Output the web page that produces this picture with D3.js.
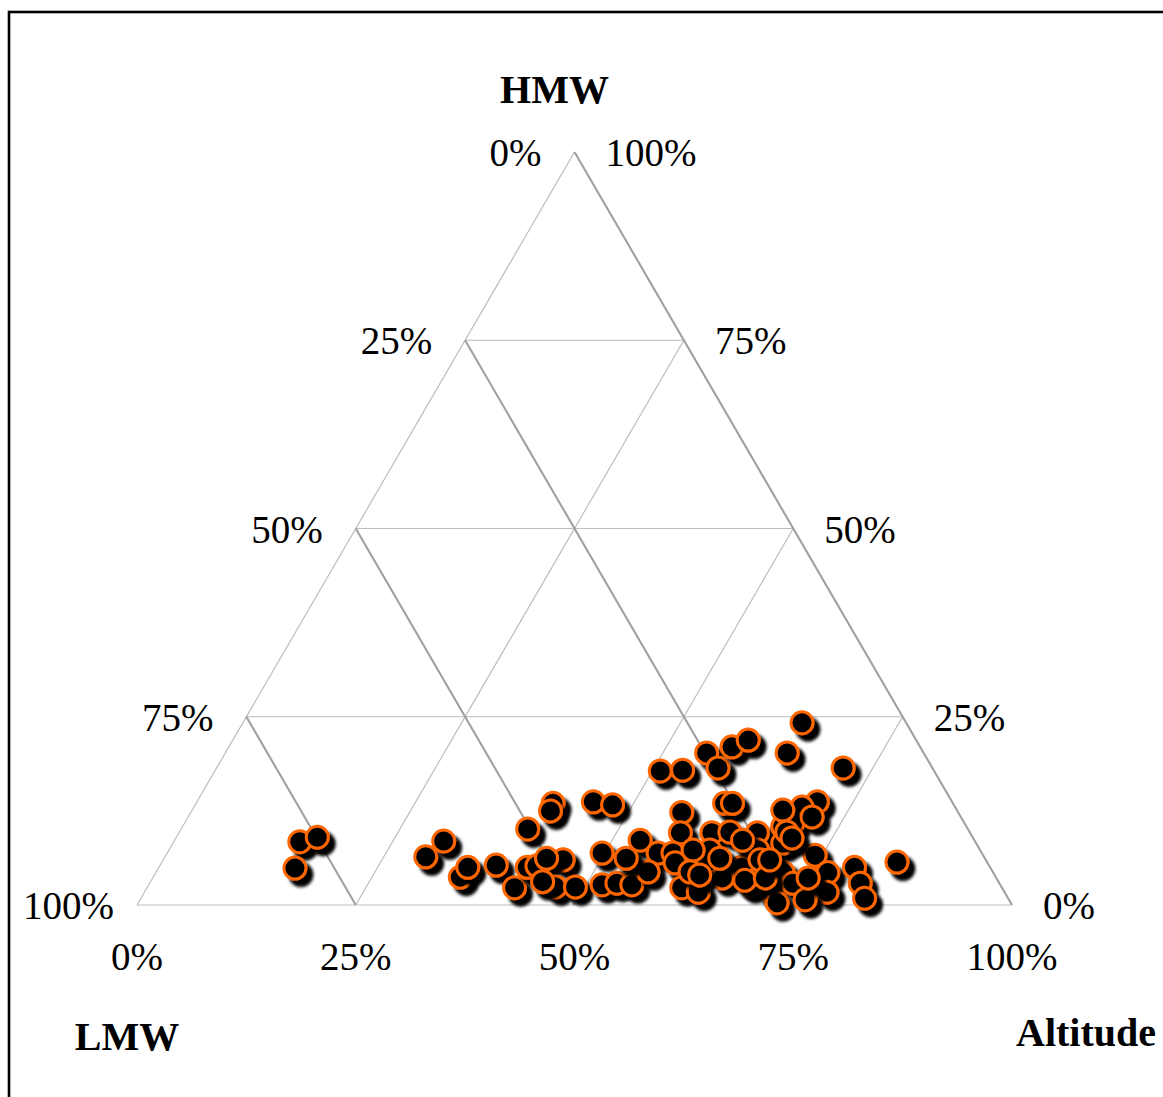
<!DOCTYPE html>
<html>
<head>
<meta charset="utf-8">
<script src="https://cdn.jsdelivr.net/npm/d3@7"></script>
<style>
  body { margin: 0; background: #fff; }
  svg { display: block; }
  text { font-family: "Liberation Serif", "Times New Roman", serif; fill: #000; }
</style>
</head>
<body>
<svg id="chart" width="1163" height="1097"></svg>
<script>
// Composition of each sample (percent): HMW, LMW and Altitude
const hmw = [8.4, 9.0, 4.9, 6.4, 8.5, 3.7, 5.0, 5.3, 2.3, 10.1, 5.0, 5.2, 13.5, 12.5, 13.7, 13.3, 6.0, 6.2, 2.4, 2.4,
  6.9, 2.7, 2.9, 2.7, 8.6, 6.9, 4.4, 17.8, 17.9, 20.2, 18.2, 21.0, 21.9, 12.3, 13.5, 13.5, 9.6, 6.9, 5.6, 9.6,
  9.7, 7.3, 5.3, 4.4, 5.0, 9.6, 7.3, 4.3, 2.0, 0.3, 2.3, 1.7, 10.4, 20.2, 24.2, 18.2, 13.7, 13.0, 10.9, 12.6,
  8.2, 6.6, 3.1, 4.3, 1.7, 4.3, 2.9, 0.7, 5.0, 2.9, 0.9, 5.7, 7.3, 8.6, 9.7, 3.6, 2.7, 4.4, 6.2, 3.1,
  6.0, 11.7, 3.3, 3.6, 6.0, 3.6, 6.2, 4.0, 8.9];
const lmw = [77.2, 74.9, 79.5, 63.8, 60.7, 61.2, 59.7, 56.3, 55.7, 50.3, 52.9, 51.7, 45.7, 46.5, 41.0, 39.0, 48.3, 50.1, 51.0, 48.7,
  43.4, 45.5, 43.7, 42.1, 38.2, 37.0, 39.4, 31.3, 28.7, 24.8, 24.5, 21.5, 19.2, 31.6, 26.1, 25.2, 33.1, 35.3, 35.7, 29.5,
  27.4, 30.9, 32.2, 29.7, 28.4, 24.3, 25.4, 24.3, 26.9, 26.7, 36.6, 35.0, 21.0, 15.6, 11.9, 10.2, 15.4, 17.5, 19.6, 19.9,
  22.1, 19.2, 20.6, 18.9, 20.3, 24.0, 23.6, 23.3, 15.5, 15.9, 16.4, 10.3, 32.8, 26.5, 20.9, 31.3, 28.6, 34.6, 41.0, 52.1,
  25.8, 17.0, 28.9, 26.4, 24.7, 21.5, 30.3, 33.7, 20.7];
const altitude = [14.4, 16.1, 15.6, 29.8, 30.8, 35.1, 35.3, 38.4, 42.0, 39.6, 42.1, 43.1, 40.8, 41.0, 45.3, 47.7, 45.7, 43.7, 46.6, 48.9,
  49.7, 51.8, 53.4, 55.2, 53.2, 56.1, 56.2, 50.9, 53.4, 55.0, 57.3, 57.5, 58.9, 56.1, 60.4, 61.3, 57.3, 57.8, 58.7, 60.9,
  62.9, 61.8, 62.5, 65.9, 66.6, 66.1, 67.3, 71.4, 71.1, 73.0, 61.1, 63.3, 68.6, 64.2, 63.9, 71.6, 70.9, 69.5, 69.5, 67.5,
  69.7, 74.2, 76.3, 76.8, 78.0, 71.7, 73.5, 76.0, 79.5, 81.2, 82.7, 84.0, 59.9, 64.9, 69.4, 65.1, 68.7, 61.0, 52.8, 44.8,
  68.2, 71.3, 67.8, 70.0, 69.3, 74.9, 63.5, 62.3, 70.4];

const tickValues = [0, 25, 50, 75, 100];
const gridValues = [25, 50, 75];
const axisTitles = { top: "HMW", left: "LMW", right: "Altitude" };

const svg = d3.select("#chart");
const fmt = v => v + "%";

// Ternary projection: horizontal position follows Altitude (+ half of HMW), height follows HMW
const xScale = d3.scaleLinear().domain([0, 100]).range([137, 1012]);
const yScale = d3.scaleLinear().domain([0, 100]).range([905, 152]);
function project(h, l, a) {
  const s = h + l + a;
  const hh = h / s * 100, aa = a / s * 100;
  return [xScale(aa + hh / 2), yScale(hh)];
}

// Outer frame
svg.append("rect")
  .attr("x", 9).attr("y", 12).attr("width", 1200).attr("height", 1200)
  .attr("fill", "none").attr("stroke", "#000").attr("stroke-width", 2.6);

const defs = svg.append("defs");
defs.append("filter").attr("id", "markerShadow")
  .attr("x", "-80%").attr("y", "-80%").attr("width", "260%").attr("height", "260%")
  .append("feDropShadow")
  .attr("dx", 6).attr("dy", 6.5).attr("stdDeviation", 1.5)
  .attr("flood-color", "#000").attr("flood-opacity", 1);

const line = d3.line();
const grid = svg.append("g").attr("fill", "none");

// Constant-HMW lines (incl. base) and constant-Altitude lines (incl. left edge): thin
[0, ...gridValues].forEach(v => {
  grid.append("path")
    .attr("d", line([project(v, 100 - v, 0), project(v, 0, 100 - v)]))
    .attr("stroke", "#BDBDBD").attr("stroke-width", 1.2);
  grid.append("path")
    .attr("d", line([project(100 - v, 0, v), project(0, 100 - v, v)]))
    .attr("stroke", "#BDBDBD").attr("stroke-width", 1.2);
});
// Constant-LMW lines (incl. right edge): heavier
[0, ...gridValues].forEach(v => {
  grid.append("path")
    .attr("d", line([project(100 - v, v, 0), project(0, v, 100 - v)]))
    .attr("stroke", "#A0A0A0").attr("stroke-width", 2.1);
});

// Tick labels
const ticks = svg.append("g").attr("font-size", 39);
// LMW along the left edge
ticks.selectAll(".tl").data(tickValues).join("text")
  .attr("class", "tl")
  .attr("text-anchor", "end")
  .attr("x", v => project(100 - v, v, 0)[0] - 33)
  .attr("y", v => project(100 - v, v, 0)[1] + 14)
  .text(fmt)
  .each(function () {
    // keep labels clear of the frame
    const b = this.getBBox();
    if (b.x < 23) d3.select(this).attr("x", +d3.select(this).attr("x") + (23 - b.x));
  });
// HMW along the right edge
ticks.selectAll(".tr").data(tickValues).join("text")
  .attr("class", "tr")
  .attr("text-anchor", "start")
  .attr("x", v => project(v, 0, 100 - v)[0] + 31)
  .attr("y", v => project(v, 0, 100 - v)[1] + 14)
  .text(fmt);
// Altitude along the base
ticks.selectAll(".tb").data(tickValues).join("text")
  .attr("class", "tb")
  .attr("text-anchor", "middle")
  .attr("x", v => project(0, 100 - v, v)[0])
  .attr("y", v => project(0, 100 - v, v)[1] + 65)
  .text(fmt);

// Axis titles
const titles = svg.append("g").attr("font-size", 40).attr("font-weight", "bold").attr("text-anchor", "middle");
const apex = project(100, 0, 0), cornerL = project(0, 100, 0), cornerR = project(0, 0, 100);
titles.append("text").attr("x", apex[0] - 20).attr("y", apex[1] - 49).text(axisTitles.top);
titles.append("text").attr("x", cornerL[0] - 10).attr("y", cornerL[1] + 145).text(axisTitles.left);
titles.append("text").attr("x", cornerR[0] + 74).attr("y", cornerR[1] + 141).text(axisTitles.right);

// Samples
const samples = hmw.map((h, i) => ({ h, l: lmw[i], a: altitude[i] }));
svg.append("g").selectAll("circle").data(samples).join("circle")
  .attr("cx", d => project(d.h, d.l, d.a)[0])
  .attr("cy", d => project(d.h, d.l, d.a)[1])
  .attr("r", 11)
  .attr("fill", "#000")
  .attr("stroke", "#FF6600")
  .attr("stroke-width", 3)
  .attr("filter", "url(#markerShadow)");
</script>
</body>
</html>
